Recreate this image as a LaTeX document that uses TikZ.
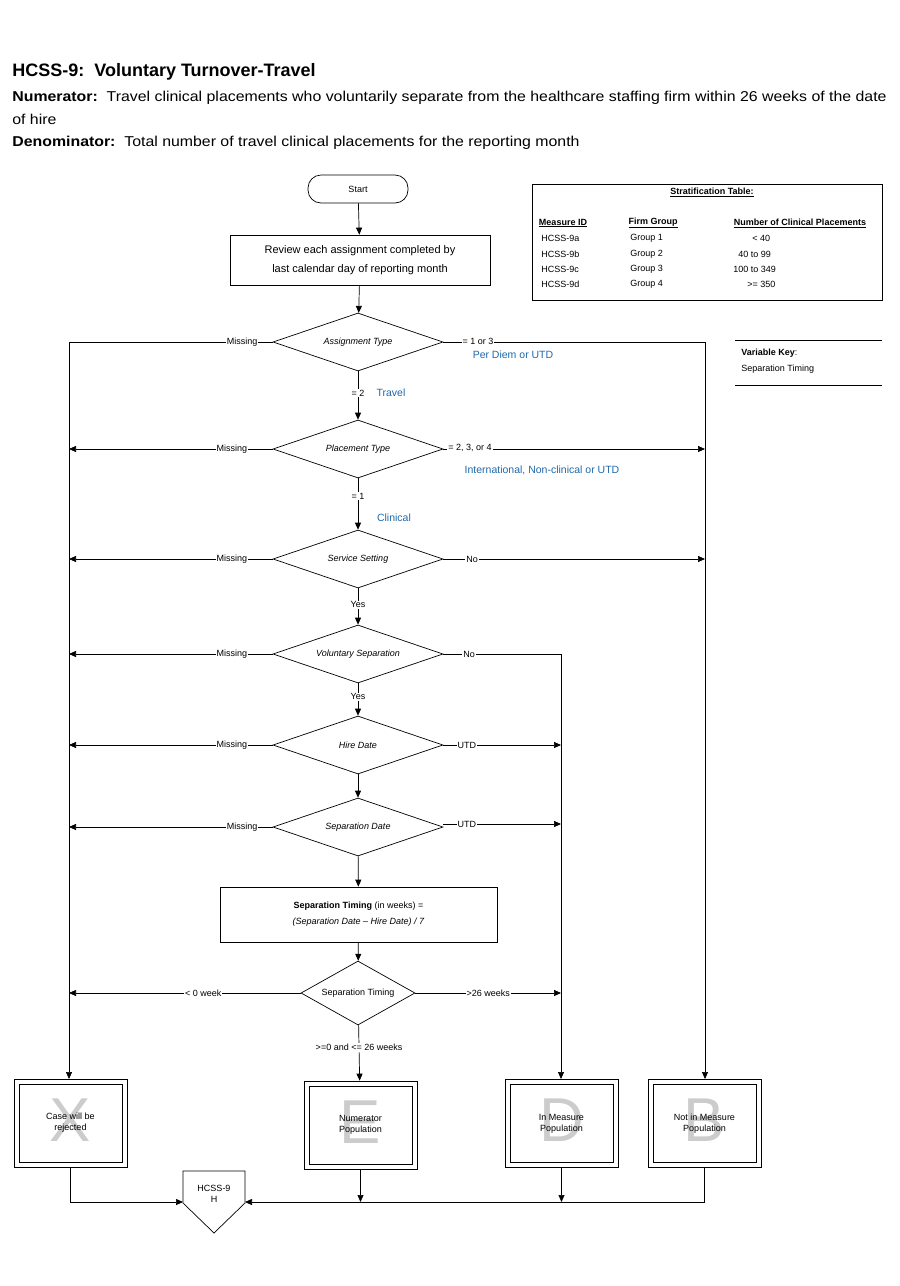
\documentclass[tikz,border=0pt]{standalone}
\usepackage{fontspec}
\setmainfont{Liberation Sans}
\newfontfamily\wide[FakeStretch=1.11]{Liberation Sans}
\usetikzlibrary{arrows.meta,shapes.geometric}
\definecolor{blu}{RGB}{31,105,170}
\begin{document}
\begin{tikzpicture}[x=1pt,y=-1pt,
  line width=0.7pt,
  arr/.style={-{Triangle[length=7pt,width=6pt]}},
  dia/.style={diamond,draw,aspect=2.9,minimum width=170,minimum height=58,inner sep=0pt,font=\fontsize{9}{10}\selectfont\itshape},
  lab/.style={font=\fontsize{9}{10}\selectfont,fill=white,inner sep=1pt},
  blab/.style={font=\fontsize{10.5}{12}\selectfont,text=blu,inner sep=1pt},
  sm/.style={font=\fontsize{9}{11}\selectfont},
  outer/.style={draw,minimum width=113,minimum height=88,inner sep=0pt},
  inner/.style={draw,minimum width=103,minimum height=78,inner sep=0pt},
  big/.style={font=\fontsize{62}{62}\selectfont,text=gray!40,yshift=3pt}]
\useasboundingbox (0,0) rectangle (900,1286);
% header
\node[anchor=west,inner sep=0pt,font=\fontsize{18}{20}\selectfont\bfseries] (title) at (12,72) {HCSS-9:\ \ Voluntary Turnover-Travel};
\node[anchor=west,inner sep=0pt,font=\wide\fontsize{14.3}{16}\selectfont] (num) at (12,98) {\textbf{Numerator:}\ \ Travel clinical placements who voluntarily separate from the healthcare staffing firm within 26 weeks of the date};
\node[anchor=west,inner sep=0pt,font=\wide\fontsize{14.3}{16}\selectfont] (num2) at (12,119) {of hire};
\node[anchor=west,inner sep=0pt,font=\wide\fontsize{14.3}{16}\selectfont] (den) at (12,143) {\textbf{Denominator:}\ \ Total number of travel clinical placements for the reporting month};
% start and review
\node[draw,rounded corners=13,minimum width=100,minimum height=28,sm] (start) at (358,189) {Start};
\node[draw,minimum width=260,minimum height=50,align=center,font=\fontsize{11}{19}\selectfont] (rev) at (360,260) {Review each assignment completed by\\last calendar day of reporting month};
\node[dia] (at) at (358,342) {Assignment Type};
\node[dia] (pt) at (358,449) {Placement Type};
\node[dia] (ss) at (358,559) {Service Setting};
\node[dia] (vs) at (358,654) {Voluntary Separation};
\node[dia] (hd) at (358,745) {Hire Date};
\node[dia] (sd) at (358,827) {Separation Date};
\node[draw,minimum width=277,minimum height=55,align=center,font=\fontsize{9}{16}\selectfont] (calc) at (358.5,914.5) {\textbf{Separation Timing} (in weeks) =\\\textit{(Separation Date -- Hire Date) / 7}};
\node[diamond,draw,aspect=1.8,minimum width=114,minimum height=64,inner sep=0pt,sm] (st) at (358,993) {Separation Timing};
% terminal boxes
\node[outer] (X) at (70.5,1123) {};
\node[inner] at (X) {};
\node[big] at (X) {X};
\node[sm,align=center] at (X) {Case will be\\rejected};
\node[outer] (E) at (360.5,1125) {};
\node[inner] at (E) {};
\node[big] at (E) {E};
\node[sm,align=center] at (E) {Numerator\\Population};
\node[outer] (D) at (561.5,1123.5) {};
\node[inner] at (D) {};
\node[big] at (D) {D};
\node[sm,align=center] at (D) {In Measure\\Population};
\node[outer] (B) at (704.5,1123.5) {};
\node[inner] at (B) {};
\node[big] at (B) {B};
\node[sm,align=center] at (B) {Not in Measure\\Population};
\draw (183,1171) -- (245,1171) -- (245,1203) -- (214,1233) -- (183,1203) -- cycle;
\node[sm,align=center] (H) at (214,1194) {HCSS-9\\H};
\coordinate (hl) at (183,1202);
\coordinate (hr) at (245,1202);
% main vertical
\draw[arr] (start) -- (rev);
\draw[arr] (rev) -- (at);
\draw[arr] (at) -- (pt) node[pos=0.45,lab] {= 2};
\node[blab] at (391,393) {Travel};
\draw[arr] (pt) -- (ss) node[pos=0.35,lab] {= 1};
\node[blab] at (394,518) {Clinical};
\draw[arr] (ss) -- (vs) node[pos=0.45,lab] {Yes};
\draw[arr] (vs) -- (hd) node[pos=0.42,lab] {Yes};
\draw[arr] (hd) -- (sd);
\draw[arr] (sd) -- (calc);
\draw[arr] (calc) -- (st);
\draw[arr] (st) -- (E) node[pos=0.4,lab] {>=0 and <= 26 weeks};
% left column
\coordinate (L0) at (69,342);
\draw[arr] (at.west) -- node[pos=0.15,lab] {Missing} (L0) -- (69,1079);
\draw[arr] (pt.west) -- node[pos=0.2,lab] {Missing} (69,449);
\draw[arr] (ss.west) -- node[pos=0.2,lab] {Missing} (69,559);
\draw[arr] (vs.west) -- node[pos=0.2,lab] {Missing} (69,654);
\draw[arr] (hd.west) -- node[pos=0.2,lab] {Missing} (69,745);
\draw[arr] (sd.west) -- node[pos=0.15,lab] {Missing} (69,827);
\draw[arr] (st.west) -- node[pos=0.42,lab] {< 0 week} (69,993);
% right column
\coordinate (R0) at (705,342);
\draw[arr] (at.east) -- (R0) -- (705,1079);
\node[lab] at (478,341) {= 1 or 3};
\node[blab] at (513,355) {Per Diem or UTD};
\draw[arr] (pt.east) -- (705,449);
\node[lab] at (470,448) {= 2, 3, or 4};
\node[blab] at (542,470) {International, Non-clinical or UTD};
\draw[arr] (ss.east) -- node[pos=0.11,lab] {No} (705,559);
% middle-right column
\coordinate (M0) at (561,654);
\draw[arr] (vs.east) -- node[pos=0.22,lab] {No} (M0) -- (561,1079);
\draw[arr] (hd.east) -- node[pos=0.2,lab] {UTD} (561,745);
\draw[arr] (sd.east) ++(0,-3) -- node[pos=0.2,lab] {UTD} (561,824);
\draw[arr] (st.east) -- node[pos=0.5,lab] {>26 weeks} (561,993);
% bottom connections
\draw[arr] (X.south) -- (70.5,1202) -- (hl);
\draw[arr] (B.south) -- (704.5,1202) -- (hr);
\draw[arr] (E.south) -- (360.5,1202);
\draw[arr] (D.south) -- (561.5,1202);
% stratification table
\draw (532,184) rectangle (882,300);
\node[font=\fontsize{9}{10}\selectfont\bfseries] (sth) at (712,192) {\underline{Stratification Table:}};
\begin{scope}[every node/.style={font=\fontsize{9}{10}\selectfont,inner sep=0pt}]
\node[font=\fontsize{9}{10}\selectfont\bfseries] at (563,223) {\underline{Measure ID}};
\node[font=\fontsize{9}{10}\selectfont\bfseries] at (653,223) {\underline{Firm Group}};
\node[font=\fontsize{9}{10}\selectfont\bfseries] at (800,223) {\underline{Number of Clinical Placements}};
\node[anchor=west] at (541,238) {HCSS-9a};
\node[anchor=west] at (541,254) {HCSS-9b};
\node[anchor=west] at (541,269) {HCSS-9c};
\node[anchor=west] at (541,284) {HCSS-9d};
\node[anchor=west] at (630,238) {Group 1};
\node[anchor=west] at (630,254) {Group 2};
\node[anchor=west] at (630,269) {Group 3};
\node[anchor=west] at (630,284) {Group 4};
\node[anchor=west] at (752,238) {< 40};
\node[anchor=west] at (738,254) {40 to 99};
\node[anchor=west] at (733,269) {100 to 349};
\node[anchor=west] at (747,284) {>= 350};
\end{scope}
% variable key
\draw (735,340) -- (882,340);
\draw (735,385) -- (882,385);
\node[anchor=west,inner sep=0pt,font=\fontsize{9}{10}\selectfont] at (741,353) {\textbf{Variable Key}:};
\node[anchor=west,inner sep=0pt,font=\fontsize{9}{10}\selectfont] at (741,369) {Separation Timing};
\end{tikzpicture}
\end{document}
